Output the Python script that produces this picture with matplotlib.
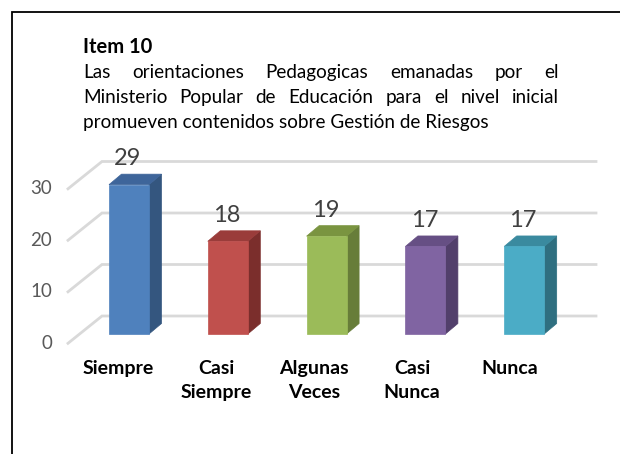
import matplotlib
matplotlib.use("Agg")
import matplotlib.pyplot as plt
from matplotlib.patches import Polygon, Rectangle

# ---- data ----
categories = ["Siempre", "Casi\nSiempre", "Algunas\nVeces", "Casi\nNunca", "Nunca"]
values = [29, 18, 19, 17, 17]
yticks = [0, 10, 20, 30]
title_bold = "Item 10"
title_lines = [
    "Las orientaciones Pedagogicas emanadas por el",
    "Ministerio Popular de Educación para el nivel inicial",
    "promueven contenidos sobre Gestión de Riesgos",
]
front_colors = ["#4F81BD", "#C0504D", "#9BBB59", "#8064A2", "#4BACC6"]
side_colors = ["#34567F", "#7B2E2C", "#677D39", "#523F6B", "#2F6F80"]
top_colors = ["#3E659A", "#9A3C3A", "#7A9440", "#664F84", "#3A8A9F"]

W, H = 620, 454
FONT = "Lato"
plt.rcParams["font.family"] = [FONT, "DejaVu Sans"]

fig = plt.figure(figsize=(W / 100, H / 100), dpi=100)

# pixel scale of the chart plane that holds the bar fronts
X0, XSTEP = 129, 98.8   # px of first category, px per category
Y0, YSTEP = 334, 5.15   # px of value 0, px per unit
xlim = (-0.85, 4.85)
ylim = (-5, 36)
lpx = X0 + xlim[0] * XSTEP
rpx = X0 + xlim[1] * XSTEP
tpx = Y0 - ylim[1] * YSTEP
bpx = Y0 - ylim[0] * YSTEP
ax = fig.add_axes([lpx / W, 1 - bpx / H, (rpx - lpx) / W, (bpx - tpx) / H])
ax.set_xlim(*xlim)
ax.set_ylim(*ylim)
ax.axis("off")


def dx(px):
    return px / XSTEP


def dy(px):
    return -px / YSTEP


# floor / wall gridlines (perspective)
front_off = (-11.6, 9.3)
back_off = (22.4, -18.0)
grid_c = "#D9D9D9"
for v in yticks:
    xf, yf = -0.5 + dx(front_off[0]), v + dy(front_off[1])
    xb, yb = -0.5 + dx(back_off[0]), v + dy(back_off[1])
    xe = 4.5 + dx(back_off[0])
    ax.plot([xf, xb, xe], [yf, yb, yb], color=grid_c, lw=2, clip_on=False,
            solid_joinstyle="miter", zorder=1)
    ax.text(xf - dx(16), yf, str(v), ha="right", va="center",
            fontsize=13.5, color="#595959")

# 3D bars
bw = 40 / XSTEP
ddx, ddy = dx(12.5), dy(-10.5)
for i, v in enumerate(values):
    x0, x1 = i - bw / 2, i + bw / 2
    ax.bar(i, v, width=bw, color=front_colors[i], zorder=3,
           edgecolor=front_colors[i], linewidth=0.5)
    side = [(x1, 0), (x1 + ddx, ddy), (x1 + ddx, v + ddy), (x1, v)]
    top = [(x0, v), (x1, v), (x1 + ddx, v + ddy), (x0 + ddx, v + ddy)]
    ax.add_patch(Polygon(side, closed=True, fc=side_colors[i], ec=side_colors[i],
                         lw=0.5, zorder=2.5))
    ax.add_patch(Polygon(top, closed=True, fc=top_colors[i], ec=top_colors[i],
                         lw=0.5, zorder=2.5))
    ax.text(i - dx(1), v + dy(-26), str(v), ha="center", va="center",
            fontsize=17, color="#404040", zorder=4)
    ax.text(i - dx(10.5 + i), dy(26), categories[i], ha="center", va="top",
            fontsize=14, fontweight="bold", color="black", linespacing=1.5)

# frame around the chart (right and bottom run past the image)
fig.add_artist(Rectangle((12 / W, -0.1), 1.2, 1 - 12 / H + 0.1,
                         transform=fig.transFigure, fill=False,
                         ec="black", lw=1.3))

# title: bold heading and justified paragraph
renderer = fig.canvas.get_renderer()
left_px, right_px = 83, 559
fig.text(left_px / W, 1 - 52.7 / H, title_bold, fontsize=14.5,
         fontweight="bold", va="baseline", ha="left")

probe = fig.text(0, 0, title_lines[2], fontsize=14)
w = probe.get_window_extent(renderer).width
probe.remove()
body_size = 14 * 407 / w

baselines = [77.7, 103.0, 128.3]
for li, line in enumerate(title_lines):
    ybase = 1 - baselines[li] / H
    if li == len(title_lines) - 1:
        fig.text(left_px / W, ybase, line, fontsize=body_size,
                 va="baseline", ha="left", color="black")
        continue
    words = line.split(" ")
    arts = [fig.text(0, ybase, wd, fontsize=body_size, va="baseline",
                     ha="left", color="black") for wd in words]
    widths = [a.get_window_extent(renderer).width for a in arts]
    gap = (right_px - left_px - sum(widths)) / (len(words) - 1)
    xpos = left_px
    for a, wd in zip(arts, widths):
        a.set_x(xpos / W)
        xpos += wd + gap

fig.savefig("out.png", dpi=100)
